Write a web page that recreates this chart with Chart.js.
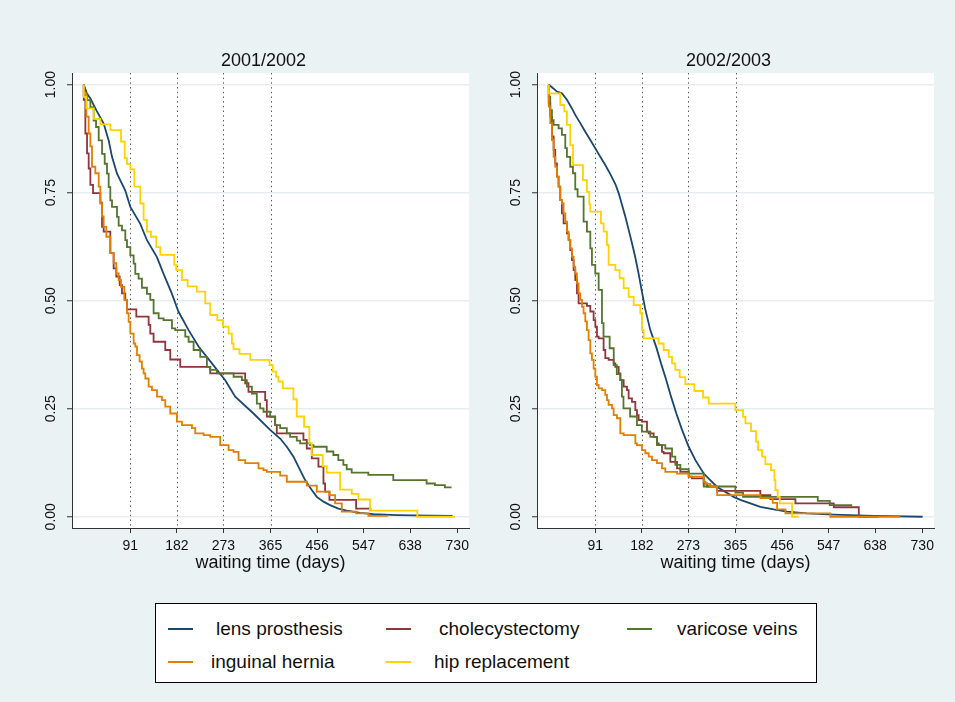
<!DOCTYPE html>
<html>
<head>
<meta charset="utf-8">
<script src="https://cdn.jsdelivr.net/npm/chart.js@4.4.1/dist/chart.umd.min.js"></script>
<style>
  html, body { margin: 0; padding: 0; }
  body { width: 955px; height: 702px; background: #eaf2f3; position: relative; overflow: hidden;
         font-family: "Liberation Sans", Arial, sans-serif; }
  .panel { position: absolute; top: 0; width: 477px; height: 600px; }
  #legend { position: absolute; left: 155px; top: 603px; width: 662px; height: 80px;
            background: #fff; border: 1px solid #000; box-sizing: border-box; }
  .lg-line { position: absolute; width: 25px; height: 2px; }
  .lg-text { position: absolute; height: 24px; line-height: 24px; font-size: 19px; color: #111; white-space: nowrap; }
</style>
</head>
<body>
<div class="panel" style="left:0px"><canvas id="c1" width="477" height="600"></canvas></div>
<div class="panel" style="left:465px"><canvas id="c2" width="477" height="600"></canvas></div>
<div id="legend"></div>
<script>
// ---------------- data ----------------
const seriesNames = ["lens prosthesis", "cholecystectomy", "varicose veins", "inguinal hernia", "hip replacement"];
const seriesColors = ["#1a476f", "#90353b", "#55752f", "#e37e00", "#ffd200"];
const panelTitles = ["2001/2002", "2002/2003"];
const xTicks = [91, 182, 273, 365, 456, 547, 638, 730];
const yTicks = [0, 0.25, 0.5, 0.75, 1];
const refLines = [91, 182, 273, 365];
const xAxisTitle = "waiting time (days)";

// 2001/2002 : [day, survival]
const lens0102 = [[0,1],[6,0.98],[12.9,0.968],[25,0.94],[38.9,0.91],[48.7,0.871],[55.2,0.833],[65,0.794],[81.2,0.755],[91,0.717],[110.5,0.678],[123.5,0.64],[143,0.601],[156,0.562],[172,0.517],[185,0.475],[204.9,0.432],[224.4,0.394],[250.5,0.355],[276.5,0.316],[296,0.278],[331.8,0.239],[364.3,0.201],[383.8,0.181],[396.9,0.162],[409.9,0.139],[422.9,0.108],[432.7,0.085],[445.7,0.062],[455.5,0.046],[468.5,0.035],[481.5,0.027],[497.8,0.019],[514.1,0.014],[540.1,0.009],[566.2,0.006],[611.7,0.004],[644.3,0.003],[721,0.002]];
const chole0102 = [[0,1],[3.1,0.965],[6.4,0.887],[9.6,0.841],[12.9,0.806],[18.1,0.768],[32.4,0.749],[35.7,0.727],[38.9,0.671],[51.9,0.66],[58.4,0.61],[63.6,0.575],[70.2,0.556],[74.7,0.536],[81.2,0.517],[84.5,0.502],[102.7,0.48],[126.8,0.463],[130,0.444],[136.5,0.424],[159.3,0.405],[169.1,0.386],[188.6,0.364],[247.2,0.347],[315.5,0.332],[322,0.309],[354.6,0.289],[357.8,0.27],[374.1,0.232],[377.3,0.212],[429.4,0.193],[435.9,0.178],[445.7,0.158],[458.7,0.135],[468.5,0.116],[471.7,0.077],[480.2,0.058],[532.3,0.039],[562,0.019]];
const varic0102 = [[0,1],[6.4,0.975],[12.9,0.964],[19.4,0.948],[24,0.917],[29.2,0.902],[35.7,0.871],[40.9,0.84],[45.4,0.817],[48.7,0.794],[51.9,0.763],[55.2,0.732],[65,0.717],[68.2,0.694],[74.7,0.674],[81.2,0.663],[84.5,0.64],[91,0.624],[97.5,0.605],[100.7,0.586],[107.2,0.562],[113.7,0.551],[123.5,0.53],[130,0.516],[136.5,0.502],[146.4,0.471],[156,0.459],[172.4,0.455],[178.9,0.436],[198.4,0.432],[204.9,0.417],[214.7,0.405],[227.7,0.386],[240.7,0.37],[247.2,0.347],[260.2,0.34],[292.8,0.332],[309,0.324],[318.8,0.316],[328.6,0.301],[338.3,0.285],[344.8,0.262],[351.3,0.251],[364.3,0.243],[374.1,0.231],[383.9,0.212],[396.9,0.205],[403.4,0.193],[416.4,0.185],[422.9,0.176],[442.4,0.17],[448.9,0.166],[474.9,0.162],[487.9,0.151],[497.6,0.143],[507.4,0.131],[513.9,0.12],[523.7,0.11],[556.2,0.102],[605,0.097],[670.1,0.085],[686.4,0.077],[705.9,0.073],[718.9,0.068]];
const hernia0102 = [[0,1],[5.1,0.98],[9.6,0.926],[12.9,0.887],[16.1,0.857],[22.6,0.81],[29.2,0.795],[32.4,0.764],[35.7,0.725],[38.9,0.695],[44.1,0.671],[51.9,0.648],[58.4,0.61],[63.6,0.587],[68.2,0.563],[72.8,0.548],[79.3,0.532],[84.5,0.502],[87.7,0.471],[91,0.451],[97.5,0.424],[100.7,0.401],[104,0.394],[109.2,0.374],[113.7,0.359],[117,0.343],[120.3,0.332],[126.8,0.32],[133.3,0.301],[143.1,0.293],[152.8,0.278],[159.3,0.27],[169.1,0.255],[182.1,0.239],[191.9,0.22],[211.4,0.212],[217.9,0.205],[234.2,0.193],[247.2,0.189],[266.7,0.185],[283,0.166],[292.8,0.154],[302.5,0.15],[315.5,0.131],[341.6,0.124],[351.3,0.112],[357.8,0.108],[383.9,0.104],[396.9,0.095],[435.9,0.081],[455.5,0.072],[480.2,0.058],[491.3,0.05],[504.3,0.031],[532.3,0.012],[556.4,0.008],[595,0.002]];
const hip0102 = [[0,1],[5,0.972],[19.4,0.945],[32.4,0.921],[52,0.908],[72.8,0.895],[80,0.868],[84.5,0.83],[91,0.816],[98.8,0.804],[110.5,0.764],[117,0.725],[123.5,0.687],[131.3,0.66],[141.7,0.648],[149.5,0.624],[176.9,0.606],[180.8,0.583],[191.9,0.571],[203,0.548],[221,0.533],[237.5,0.521],[247.2,0.494],[261,0.467],[272,0.455],[283,0.44],[289.5,0.424],[292.7,0.401],[304.4,0.388],[325.3,0.377],[363,0.363],[369.5,0.351],[376,0.336],[380.5,0.324],[389,0.313],[409.8,0.297],[416.3,0.272],[430.6,0.232],[441,0.208],[445.6,0.17],[467,0.143],[475,0.117],[501,0.102],[523.8,0.063],[536.8,0.053],[559.5,0.04],[652,0.014],[725.6,0]];

// 2002/2003 : [day, survival]
const lens0203 = [[0,1],[6.2,0.994],[16,0.984],[25.7,0.98],[35.5,0.965],[45.3,0.945],[51.8,0.93],[61.6,0.911],[71.4,0.891],[81.2,0.872],[90.9,0.853],[100.7,0.833],[110.5,0.814],[120.3,0.793],[130.1,0.77],[136.6,0.749],[143.1,0.722],[149.6,0.695],[156.2,0.664],[162.7,0.633],[169.2,0.6],[175.7,0.562],[182.2,0.52],[188.7,0.48],[198.5,0.432],[210.3,0.392],[219.4,0.355],[229.8,0.316],[239,0.278],[249.4,0.239],[260.5,0.201],[273.5,0.162],[286.6,0.131],[302.9,0.1],[329,0.069],[361.5,0.046],[374.5,0.039],[394.1,0.031],[413.6,0.023],[439.7,0.017],[465.8,0.012],[504.9,0.008],[557,0.005],[635.3,0.002],[730.8,0]];
const chole0203 = [[0,1],[2.9,0.957],[6.2,0.926],[9.5,0.88],[12.7,0.849],[16,0.818],[19.2,0.787],[22.5,0.764],[25.7,0.733],[29,0.702],[35.5,0.679],[38.8,0.656],[42,0.641],[45.3,0.617],[48.6,0.594],[51.8,0.571],[55.1,0.548],[58.3,0.517],[74.6,0.494],[81.2,0.488],[87.7,0.475],[91,0.455],[94.2,0.44],[97.5,0.417],[107.2,0.413],[110.5,0.386],[117,0.367],[126.8,0.363],[130.1,0.355],[136.6,0.347],[139.8,0.332],[146.4,0.316],[152.9,0.301],[156.1,0.293],[162.7,0.274],[169.2,0.266],[172.4,0.247],[175.7,0.235],[182.2,0.224],[192,0.22],[195.3,0.197],[205,0.193],[211.5,0.185],[214.8,0.17],[221.3,0.166],[224.6,0.15],[237.6,0.147],[250.7,0.127],[257.2,0.112],[273.5,0.104],[280,0.093],[302.9,0.089],[309.4,0.077],[329,0.07],[413.6,0.06],[433.2,0.05],[482.1,0.041],[557.1,0.031],[606,0.022],[645.1,0]];
const varic0203 = [[0,1],[2.9,0.972],[6.2,0.941],[9.5,0.918],[19.2,0.907],[25.7,0.899],[32.3,0.884],[35.5,0.853],[42,0.833],[47.3,0.81],[51.8,0.795],[56.4,0.758],[68.1,0.741],[74.6,0.683],[81.2,0.66],[84.4,0.621],[90.9,0.583],[97.5,0.563],[104,0.525],[107,0.448],[119,0.417],[127,0.39],[133,0.351],[140,0.33],[143,0.316],[146,0.278],[159,0.251],[172.4,0.232],[182,0.212],[198.5,0.197],[211.5,0.185],[227.8,0.166],[240.9,0.158],[247.4,0.139],[257.2,0.12],[273.5,0.11],[302.9,0.1],[364.7,0.07],[379.7,0.056],[525.8,0.046],[549.3,0.037],[593,0.027]];
const hernia0203 = [[0,1],[2.9,0.949],[6.2,0.911],[9.5,0.872],[12.7,0.833],[16,0.81],[19.2,0.787],[22.5,0.764],[25.7,0.733],[29,0.725],[32.3,0.702],[35.5,0.683],[38.8,0.66],[42,0.641],[45.3,0.621],[48.6,0.602],[51.8,0.579],[55.1,0.563],[58.3,0.54],[61.6,0.517],[64.9,0.502],[68.1,0.486],[71.4,0.471],[74.6,0.452],[77.9,0.432],[81.2,0.409],[84.4,0.378],[87.7,0.363],[91,0.343],[94.2,0.324],[97.5,0.305],[104,0.297],[110.5,0.293],[113.8,0.282],[117,0.27],[123.5,0.259],[126.8,0.251],[133.3,0.235],[139.8,0.228],[146.4,0.193],[169.2,0.189],[172.4,0.17],[182.2,0.166],[188.7,0.154],[195.3,0.147],[201.8,0.139],[211.5,0.131],[221.3,0.124],[227.8,0.112],[250.7,0.104],[273.5,0.1],[302.9,0.093],[306.1,0.081],[315.9,0.076],[329,0.07],[413.6,0.05],[437.8,0.043],[446.3,0.032],[462.6,0.017],[550.4,0.008],[687.4,0]];
const hip0203 = [[0,1],[22.5,0.98],[30.3,0.953],[35.5,0.938],[42,0.907],[47.3,0.86],[66.8,0.814],[74.6,0.779],[79.2,0.752],[81.2,0.723],[102,0.706],[107.2,0.679],[113.7,0.66],[117,0.629],[130.1,0.583],[138.5,0.571],[146.4,0.552],[156.2,0.529],[166,0.509],[178.9,0.49],[182.2,0.471],[185.5,0.432],[214.8,0.413],[224.6,0.401],[234.4,0.386],[240.9,0.37],[247.4,0.355],[255.9,0.34],[267,0.323],[284.6,0.307],[301.5,0.291],[312.6,0.276],[364.7,0.262],[379.7,0.247],[384.3,0.231],[395.4,0.216],[405.2,0.198],[409.1,0.174],[416.9,0.154],[423.4,0.139],[434.5,0.122],[441,0.108],[443,0.085],[447.5,0.062],[451.4,0.046],[475.6,0.031],[488.6,0]];

const panelSeries = [
  [lens0102, chole0102, varic0102, hernia0102, hip0102],
  [lens0203, chole0203, varic0203, hernia0203, hip0203]
];

// ---------------- drawing ----------------
const FONT = "'Liberation Sans', Arial, sans-serif";
const TEXT = "#111";
const AXIS = "#333";

const plotBg = {
  id: 'plotBg',
  beforeDraw(chart) {
    const a = chart.chartArea, c = chart.ctx;
    c.save(); c.fillStyle = '#ffffff';
    c.fillRect(a.left, a.top, a.right - a.left, a.bottom - a.top);
    c.restore();
  }
};
const dotted = {
  id: 'dotted',
  beforeDatasetsDraw(chart) {
    const a = chart.chartArea, c = chart.ctx, sx = chart.scales.x;
    c.save();
    c.strokeStyle = '#555'; c.lineWidth = 1; c.setLineDash([1.4, 3.3]);
    refLines.forEach(v => {
      const x = Math.round(sx.getPixelForValue(v)) + 0.5;
      c.beginPath(); c.moveTo(x, a.top); c.lineTo(x, a.bottom); c.stroke();
    });
    c.restore();
  }
};
// vertical (rotated) y-axis tick labels, placed through the y scale
const yLabels = {
  id: 'yLabels',
  afterDraw(chart) {
    const a = chart.chartArea, c = chart.ctx, sy = chart.scales.y;
    c.save();
    c.font = "14px " + FONT; c.fillStyle = TEXT;
    c.textAlign = 'center'; c.textBaseline = 'middle';
    yTicks.forEach(v => {
      const y = sy.getPixelForValue(v);
      c.save();
      c.translate(a.left - 20.5, y);
      c.rotate(-Math.PI / 2);
      c.fillText(v.toFixed(2), 0, 0);
      c.restore();
    });
    c.restore();
  }
};

function makePanel(id, p) {
  const datasets = seriesNames.map((name, i) => ({
    label: name,
    data: panelSeries[p][i].map(d => ({ x: d[0], y: d[1] })),
    borderColor: seriesColors[i],
    borderWidth: 1.8,
    pointRadius: 0,
    fill: false,
    tension: 0,
    stepped: i === 0 ? false : 'after',
    order: seriesNames.length - i
  }));
  new Chart(document.getElementById(id), {
    type: 'line',
    data: { datasets },
    options: {
      responsive: false, animation: false, devicePixelRatio: 1,
      events: [],
      layout: { padding: { left: 58, right: 8, top: 50, bottom: 0 } },
      plugins: {
        legend: { display: false },
        tooltip: { enabled: false },
        title: { display: true, text: panelTitles[p], color: TEXT,
                 font: { family: FONT, size: 18, weight: 'normal' },
                 padding: { top: 0, bottom: 1.4 } }
      },
      scales: {
        x: {
          type: 'linear', min: -23, max: 753,
          afterBuildTicks: s => { s.ticks = xTicks.map(v => ({ value: v })); },
          afterFit: s => { s.height = 72; },
          grid: { drawOnChartArea: false, drawTicks: true, tickLength: 5, tickColor: AXIS, tickWidth: 1 },
          border: { display: true, color: AXIS, width: 1 },
          ticks: { font: { family: FONT, size: 14 }, color: TEXT, padding: 5, autoSkip: false,
                   minRotation: 0, maxRotation: 0, callback: v => String(v) },
          title: { display: true, text: xAxisTitle, color: TEXT,
                   font: { family: FONT, size: 18 }, padding: { top: 0, bottom: 26 } }
        },
        y: {
          type: 'linear', min: -0.026, max: 1.027,
          afterBuildTicks: s => { s.ticks = yTicks.map(v => ({ value: v })); },
          afterFit: s => { s.width = 14; },
          grid: { color: '#e6eef0', lineWidth: 1.5, drawTicks: true, tickLength: 5, tickColor: AXIS, tickWidth: 1 },
          border: { display: true, color: AXIS, width: 1 },
          ticks: { display: false }
        }
      }
    },
    plugins: [plotBg, dotted, yLabels]
  });
}
makePanel('c1', 0);
makePanel('c2', 1);

// ---------------- legend ----------------
const legendSlots = [
  { line: 12, text: 60, row: 25 },
  { line: 230, text: 283, row: 25 },
  { line: 471, text: 521, row: 25 },
  { line: 12, text: 55, row: 58 },
  { line: 230, text: 278, row: 58 }
];
const lg = document.getElementById('legend');
seriesNames.forEach((name, i) => {
  const s = legendSlots[i];
  const ln = document.createElement('div');
  ln.className = 'lg-line';
  ln.style.left = s.line + 'px'; ln.style.top = (s.row - 1) + 'px';
  ln.style.background = seriesColors[i];
  const tx = document.createElement('div');
  tx.className = 'lg-text';
  tx.style.left = s.text + 'px'; tx.style.top = (s.row - 12) + 'px';
  tx.textContent = name;
  lg.appendChild(ln); lg.appendChild(tx);
});
</script>
</body>
</html>
